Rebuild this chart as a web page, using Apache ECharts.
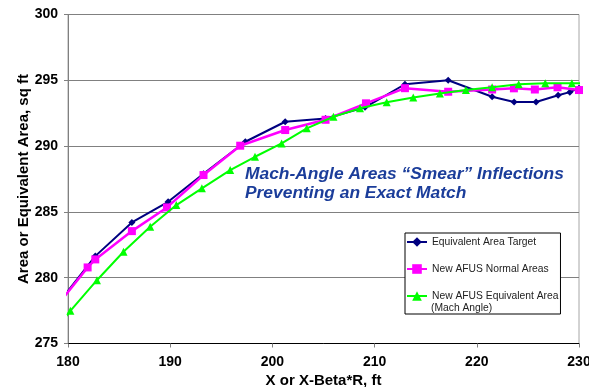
<!DOCTYPE html>
<html>
<head>
<meta charset="utf-8">
<script src="https://cdn.jsdelivr.net/npm/echarts@6.0.0/dist/echarts.min.js"></script>
<style>
  html, body { margin: 0; padding: 0; background: #fff; }
  #chart { width: 589px; height: 387px; }
</style>
</head>
<body>
<div id="chart"></div>
<script>
// Equivalent-area target versus the two new AFUS area distributions
const targetX = [179.5, 182.67, 186.25, 189.8, 193.26, 197.35, 201.25, 205.2, 209.06, 212.97, 217.2, 221.5, 223.65, 225.8, 227.96, 229.1, 230.0];
const targetY = [278.5, 281.64, 284.2, 285.77, 287.9, 290.33, 291.85, 292.1, 292.95, 294.7, 295.0, 293.75, 293.35, 293.35, 293.86, 294.1, 294.4];

const normalX = [179.5, 181.92, 182.67, 186.25, 189.68, 193.26, 196.85, 201.25, 205.2, 209.16, 212.97, 217.2, 221.5, 223.63, 225.68, 227.9, 230.0];
const normalY = [278.42, 280.78, 281.39, 283.54, 285.34, 287.8, 290.03, 291.22, 292.0, 293.25, 294.4, 294.13, 294.3, 294.39, 294.3, 294.47, 294.26];

const machX = [177.6, 180.23, 182.83, 185.43, 188.04, 190.6, 193.1, 195.87, 198.3, 200.9, 203.36, 205.97, 208.57, 211.18, 213.78, 216.39, 218.93, 221.5, 224.1, 226.7, 229.3, 231.9];
const machY = [274.9, 277.48, 279.81, 281.97, 283.87, 285.52, 286.79, 288.18, 289.19, 290.2, 291.35, 292.23, 292.87, 293.33, 293.7, 294.0, 294.26, 294.47, 294.7, 294.77, 294.77, 294.8];

const seriesNames = ['Equivalent Area Target', 'New AFUS Normal Areas', 'New AFUS Equivalent Area'];
const xTicks = { min: 180, max: 230, step: 10 };
const yTicks = { min: 275, max: 300, step: 5 };

const pairs = (xs, ys) => xs.map((x, i) => [x, ys[i]]);

const chart = echarts.init(document.getElementById('chart'), null, { renderer: 'canvas' });

const tickFont = { color: '#000', fontFamily: 'Arial', fontWeight: 'bold', fontSize: 14 };

chart.setOption({
  backgroundColor: '#fff',
  animation: false,
  grid: {
    left: 68, right: 10, top: 14.5, bottom: 43.5,
    outerBoundsMode: 'none', containLabel: false,
    show: true, borderColor: '#a6a6a6', borderWidth: 1, backgroundColor: 'transparent'
  },
  xAxis: {
    type: 'value',
    min: xTicks.min, max: xTicks.max, interval: xTicks.step,
    name: 'X or X-Beta*R, ft',
    nameLocation: 'middle', nameGap: 30, nameMoveOverlap: false,
    nameTextStyle: { color: '#000', fontFamily: 'Arial', fontWeight: 'bold', fontSize: 15 },
    axisLine: { show: true, lineStyle: { color: '#000', width: 1 } },
    axisTick: { show: true, length: 4, lineStyle: { color: '#808080' } },
    axisLabel: Object.assign({ margin: 12 }, tickFont),
    splitLine: { show: false }
  },
  yAxis: {
    type: 'value',
    min: yTicks.min, max: yTicks.max, interval: yTicks.step,
    name: 'Area or Equivalent Area, sq ft',
    nameLocation: 'middle', nameGap: 37, nameMoveOverlap: false,
    nameTextStyle: { color: '#000', fontFamily: 'Arial', fontWeight: 'bold', fontSize: 15 },
    axisLine: { show: true, lineStyle: { color: '#808080', width: 1 } },
    axisTick: { show: true, length: 4, lineStyle: { color: '#808080' } },
    axisLabel: Object.assign({ margin: 10 }, tickFont),
    splitLine: { show: true, lineStyle: { color: '#808080', width: 1 } }
  },
  legend: {
    orient: 'vertical',
    left: 405, top: 233,
    padding: [3, 2, 12, 1],
    itemWidth: 20, itemHeight: 12, itemGap: 15,
    borderColor: '#000', borderWidth: 1, backgroundColor: '#fff',
    textStyle: { fontFamily: 'Arial', fontSize: 10.3, color: '#222', lineHeight: 12 },
    data: seriesNames
  },
  graphic: [
    {
      type: 'text', left: 431, top: 303.5, z: 100,
      style: { text: '(Mach Angle)', font: '10.3px Arial', fill: '#222' }
    },
    {
      type: 'text', left: 245, top: 164, z: 100,
      style: {
        text: 'Mach-Angle Areas \u201CSmear\u201D Inflections\nPreventing an Exact Match',
        font: 'italic bold 17.4px Arial', fill: '#1b3d9a', lineHeight: 19.5
      }
    }
  ],
  series: [
    {
      name: seriesNames[0], type: 'line', data: pairs(targetX, targetY),
      symbol: 'diamond', symbolSize: 7, showAllSymbol: true,
      lineStyle: { color: '#000080', width: 2 },
      itemStyle: { color: '#000080' }, z: 2
    },
    {
      name: seriesNames[1], type: 'line', data: pairs(normalX, normalY),
      symbol: 'rect', symbolSize: 8, showAllSymbol: true,
      lineStyle: { color: '#ff00ff', width: 2.5 },
      itemStyle: { color: '#ff00ff' }, z: 3
    },
    {
      name: seriesNames[2], type: 'line', data: pairs(machX, machY),
      symbol: 'triangle', symbolSize: 8, showAllSymbol: true,
      lineStyle: { color: '#00ff00', width: 2 },
      itemStyle: { color: '#00ff00' }, z: 4
    }
  ]
});
</script>
</body>
</html>
